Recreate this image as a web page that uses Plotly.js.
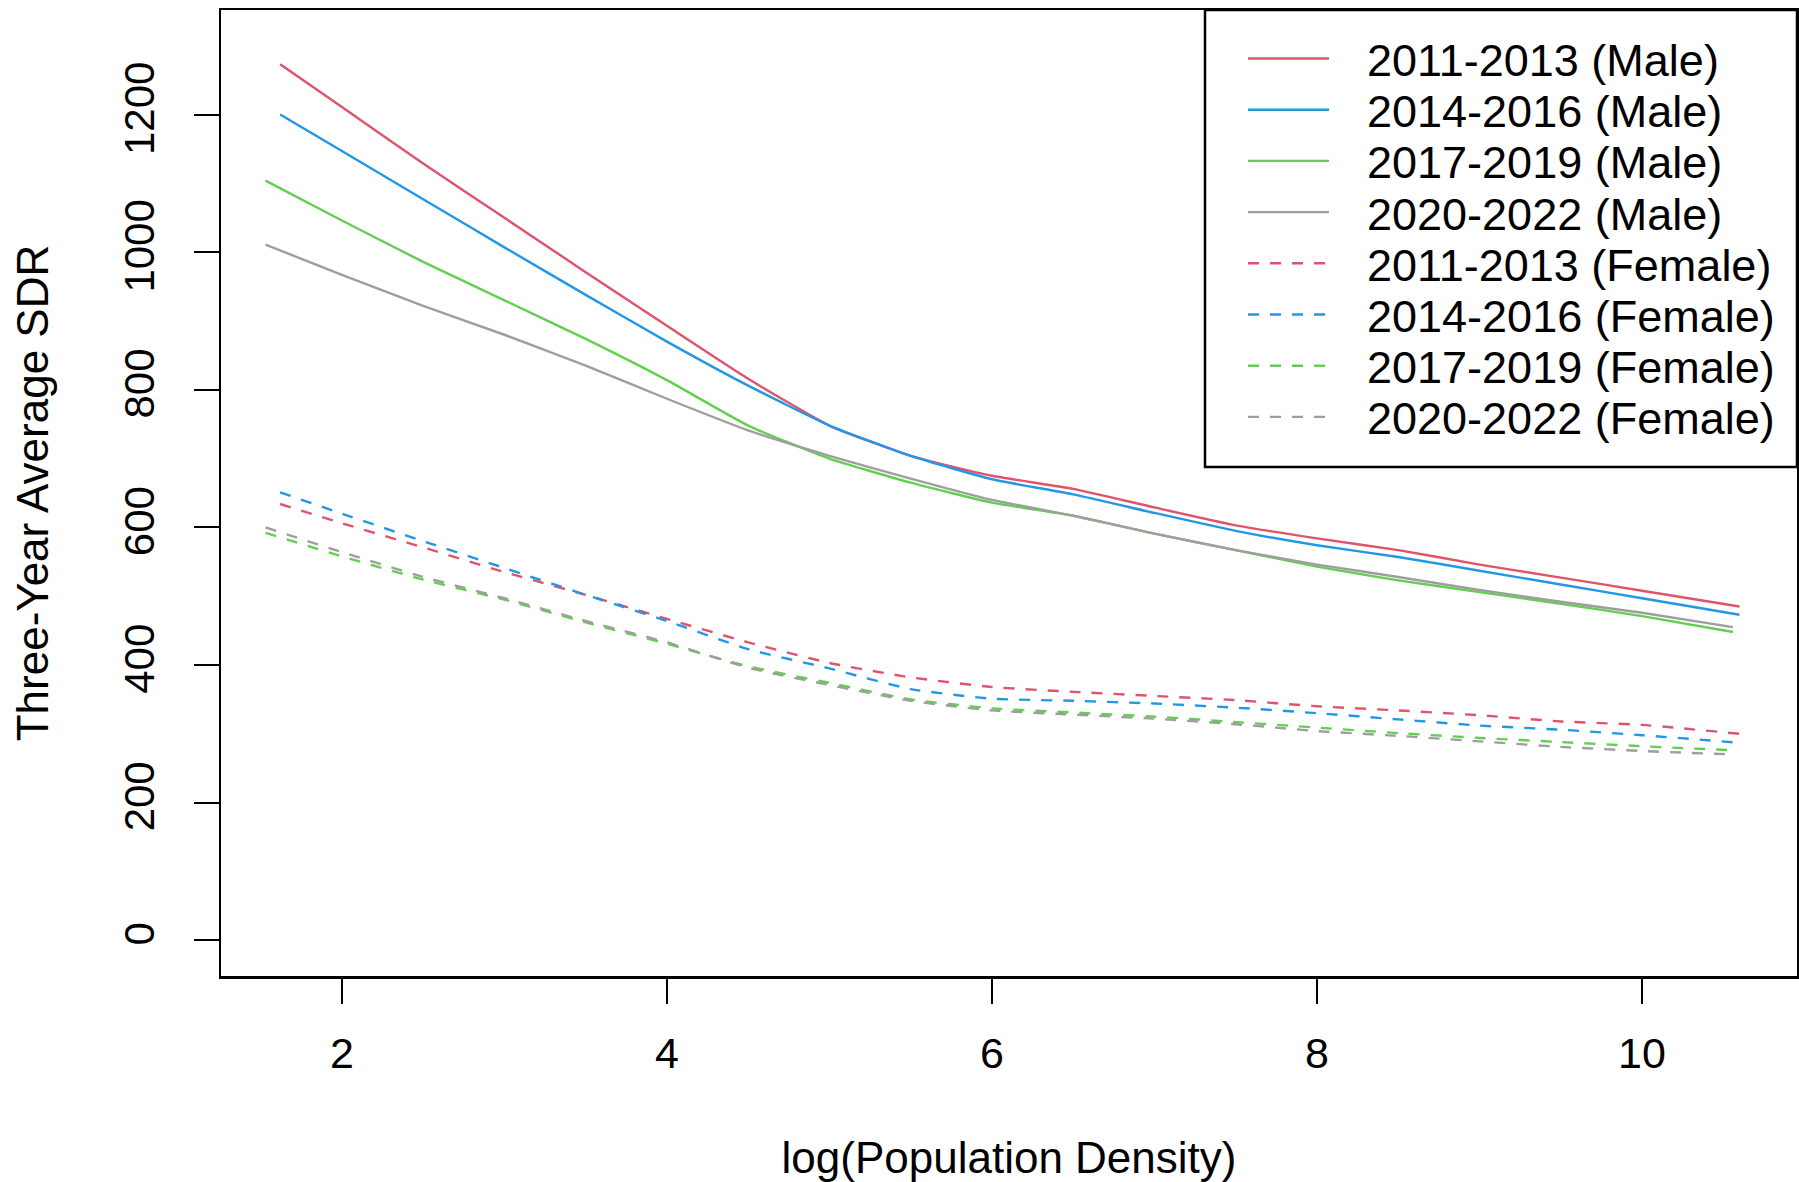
<!DOCTYPE html>
<html><head><meta charset="utf-8">
<script src="https://cdn.plot.ly/plotly-3.0.1.min.js"></script>
<style>html,body{margin:0;padding:0;background:#fff}#chart{width:1799px;height:1182px}</style>
</head><body><div id="chart"></div>
<script>
// x positions: log(Population Density)
const xEarly = [1.62, 2, 2.5, 3, 3.5, 4, 4.5, 5, 5.5, 6, 6.5, 7, 7.5, 8, 8.5, 9, 9.5, 10, 10.6];
const xLate  = [1.53, 2, 2.5, 3, 3.5, 4, 4.5, 5, 5.5, 6, 6.5, 7, 7.5, 8, 8.5, 9, 9.5, 10, 10.56];

// Male SDR
const male2011 = [1273, 1211, 1129, 1050, 971, 893, 816, 748, 704, 675, 656, 629, 603, 584, 567, 546, 527, 508, 485];
const male2014 = [1200, 1147, 1077, 1007, 938, 870, 806, 748, 704, 670, 648, 621, 595, 574, 557, 537, 517, 497, 473];
const male2017 = [1104, 1046, 986, 930, 874, 814, 748, 700, 665, 636, 617, 591, 567, 543, 523, 506, 489, 471, 448];
const male2020 = [1011, 967, 922, 880, 835, 787, 741, 704, 671, 640, 617, 591, 567, 546, 528, 509, 492, 476, 455];

// Female SDR
const female2011 = [634, 606, 571, 535, 502, 467, 433, 403, 382, 368, 361, 355, 349, 340, 334, 327, 318, 313, 300];
const female2014 = [651, 620, 580, 541, 502, 464, 423, 395, 365, 351, 348, 344, 338, 330, 321, 312, 306, 298, 287];
const female2017 = [592, 558, 524, 495, 462, 431, 398, 374, 350, 337, 331, 325, 317, 309, 301, 294, 288, 282, 276];
const female2020 = [600, 564, 528, 497, 464, 433, 396, 371, 348, 334, 328, 322, 314, 304, 297, 289, 281, 275, 270];

const periods = ['2011-2013', '2014-2016', '2017-2019', '2020-2022'];
const xTickVals = [2, 4, 6, 8, 10];
const yTickVals = [0, 200, 400, 600, 800, 1000, 1200];

const colors = ['#DF536B', '#2297E6', '#61D04F', '#9E9E9E'];
const xSets = [xEarly, xEarly, xLate, xLate];
const maleSeries = [male2011, male2014, male2017, male2020];
const femaleSeries = [female2011, female2014, female2017, female2020];
const DASH = '11px,11px';
const LW = 2.4;
const FONT = 'Liberation Sans, Arial, Helvetica, sans-serif';

const traces = [];
const legendItems = [];
periods.forEach((p, i) => {
  traces.push({x: xSets[i], y: maleSeries[i], mode: 'lines', name: p + ' (Male)',
    line: {color: colors[i], width: LW, shape: 'spline', smoothing: 0.5}, hoverinfo: 'x+y+name'});
  legendItems.push({name: p + ' (Male)', color: colors[i], dash: 'solid'});
});
periods.forEach((p, i) => {
  traces.push({x: xSets[i], y: femaleSeries[i], mode: 'lines', name: p + ' (Female)',
    line: {color: colors[i], width: LW, dash: DASH, shape: 'spline', smoothing: 0.5}, hoverinfo: 'x+y+name'});
  legendItems.push({name: p + ' (Female)', color: colors[i], dash: DASH});
});

// Custom legend box (R style) in paper coordinates
const W = 1799, H = 1182, ML = 221, MR = 2, MT = 10, MB = 206;
const PW = W - ML - MR, PH = H - MT - MB;
const px2x = v => (v - ML) / PW;
const py2y = v => 1 - (v - MT) / PH;
const shapes = [{type: 'rect', xref: 'paper', yref: 'paper',
  x0: px2x(1205), x1: 1, y0: py2y(467), y1: 1,
  line: {color: '#000', width: 2.5}, fillcolor: 'rgba(255,255,255,1)', layer: 'above'}];
const annotations = [];
legendItems.forEach((it, k) => {
  const yy = 58.5 + k * 51.2;
  shapes.push({type: 'line', xref: 'paper', yref: 'paper',
    x0: px2x(1248), x1: px2x(1329), y0: py2y(yy), y1: py2y(yy),
    line: {color: it.color, width: LW, dash: it.dash}, layer: 'above'});
  annotations.push({xref: 'paper', yref: 'paper', x: px2x(1365), y: py2y(yy + 2),
    xanchor: 'left', yanchor: 'middle', showarrow: false, text: it.name,
    font: {family: FONT, size: 45, color: '#000'}});
});

const layout = {
  width: W, height: H,
  margin: {l: ML, r: MR, t: MT, b: MB, pad: 0},
  paper_bgcolor: '#fff', plot_bgcolor: '#fff',
  showlegend: false,
  font: {family: FONT, color: '#000'},
  xaxis: {
    range: [1.256, 10.954], tickvals: xTickVals, ticktext: xTickVals.map(String),
    ticks: 'outside', ticklen: 25, tickwidth: 2, tickcolor: '#000',
    showline: true, mirror: true, linecolor: '#000', linewidth: 2.5,
    showgrid: false, zeroline: false, automargin: false,
    tickfont: {family: FONT, size: 43, color: '#000'}, ticklabelstandoff: 13,
    title: {text: 'log(Population Density)', font: {family: FONT, size: 44, color: '#000'}, standoff: 67}
  },
  yaxis: {
    range: [-52, 1352], tickvals: yTickVals, ticktext: yTickVals.map(String),
    tickangle: -90,
    ticks: 'outside', ticklen: 25, tickwidth: 2, tickcolor: '#000',
    showline: true, mirror: true, linecolor: '#000', linewidth: 2.5,
    showgrid: false, zeroline: false, automargin: false,
    tickfont: {family: FONT, size: 42, color: '#000'}, ticklabelstandoff: 23,
    title: {text: 'Three-Year Average SDR', font: {family: FONT, size: 44, color: '#000'}, standoff: 54}
  },
  shapes: shapes,
  annotations: annotations
};

Plotly.newPlot('chart', traces, layout, {staticPlot: true, displayModeBar: false});
</script>
</body></html>
